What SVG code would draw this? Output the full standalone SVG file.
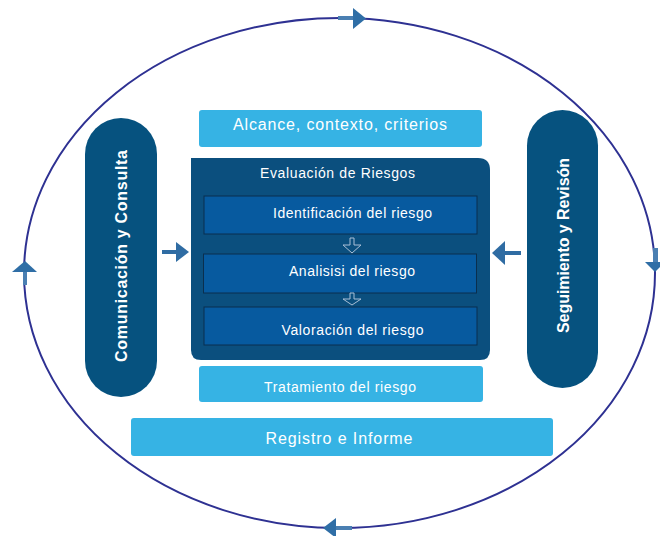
<svg xmlns="http://www.w3.org/2000/svg" width="660" height="536" viewBox="0 0 660 536">
  <style>
    .cycle { fill: none; stroke: #2e3192; stroke-width: 2; }
    .cyc-arrow { fill: #2f6ea6; }
    .cyc-shaft { fill: #4a7fb2; }
    .pill { fill: #06527f; }
    .light { fill: #36b3e4; }
    .eval { fill: #0b4f7e; }
    .step { fill: #075a9f; stroke: #0a2f4e; stroke-width: 1; }
    .flow { fill: #0b4f7e; stroke: #a9bfd6; stroke-width: 1; }
    .side-arrow { fill: #2f6ca3; }
    text { font-family: "Liberation Sans", Arial, sans-serif; fill: #ffffff; text-anchor: middle; }
    .big { font-size: 16px; }
    .mid { font-size: 14px; }
    .vert { font-size: 16px; font-weight: bold; }
  </style>

  <!-- continuous cycle -->
  <g id="cycle">
    <ellipse class="cycle" cx="339.5" cy="273" rx="315.5" ry="255"/>
    <rect class="cyc-shaft" x="338" y="16" width="16" height="4"/>
    <polygon class="cyc-arrow" points="353,8 366,18.5 353,29"/>
    <rect class="cyc-shaft" x="23" y="271" width="4" height="14"/>
    <polygon class="cyc-arrow" points="12,272 25,261 37,272"/>
    <rect class="cyc-shaft" x="653" y="248" width="5" height="14"/>
    <polygon class="cyc-arrow" points="645,262 665,262 655,272"/>
    <rect class="cyc-shaft" x="336" y="526" width="16" height="4"/>
    <polygon class="cyc-arrow" points="336,518 323,528 336,538"/>
  </g>

  <g id="comunicacion">
    <rect class="pill" x="85" y="118" width="72" height="279" rx="36"/>
    <text class="vert" transform="translate(127,256) rotate(-90)" textLength="212">Comunicación  y Consulta</text>
  </g>

  <g id="seguimiento">
    <rect class="pill" x="527" y="110" width="71" height="278" rx="35.5"/>
    <text class="vert" transform="translate(569,245.5) rotate(-90)" textLength="175">Seguimiento y Revisón</text>
  </g>

  <g id="alcance">
    <rect class="light" x="199" y="110" width="283" height="37" rx="3"/>
    <text class="big" x="340" y="130" textLength="214">Alcance, contexto, criterios</text>
  </g>

  <g id="evaluacion">
    <path class="eval" d="M191,158 H478 Q490,158 490,170 V350 Q490,360 480,360 H201 Q191,360 191,350 Z"/>
    <text class="mid" x="337.5" y="178" textLength="155">Evaluación de Riesgos</text>
  </g>

  <g id="identificacion">
    <rect class="step" x="204" y="196" width="273" height="38"/>
    <text class="mid" x="352.5" y="218" textLength="159">Identificación del riesgo</text>
  </g>

  <g id="analisis">
    <rect class="step" x="203.5" y="254" width="273" height="39"/>
    <text class="mid" x="352" y="276" textLength="126">Analisisi del riesgo</text>
  </g>

  <g id="valoracion">
    <rect class="step" x="204" y="307" width="273" height="38"/>
    <text class="mid" x="352.5" y="335" textLength="142">Valoración del riesgo</text>
  </g>

  <g id="tratamiento">
    <rect class="light" x="199" y="366" width="284" height="36" rx="3"/>
    <text class="mid" x="340" y="392" textLength="152">Tratamiento del riesgo</text>
  </g>

  <g id="registro">
    <rect class="light" x="131" y="418" width="422" height="38" rx="3"/>
    <text class="big" x="339" y="444" textLength="147">Registro e Informe</text>
  </g>

  <!-- connectors -->
  <g id="connectors">
    <path class="flow" d="M350,238 H354 V245 H361 L352,253 L343,245 H350 Z"/>
    <path class="flow" d="M350,293 H354 V299 H361 L352,305 L343,299 H350 Z"/>
    <rect class="side-arrow" x="162" y="250" width="15" height="4"/>
    <polygon class="side-arrow" points="176,242 189,252 176,262"/>
    <rect class="side-arrow" x="504" y="251" width="17" height="4"/>
    <polygon class="side-arrow" points="505,241 492,253 505,265"/>
  </g>
</svg>
